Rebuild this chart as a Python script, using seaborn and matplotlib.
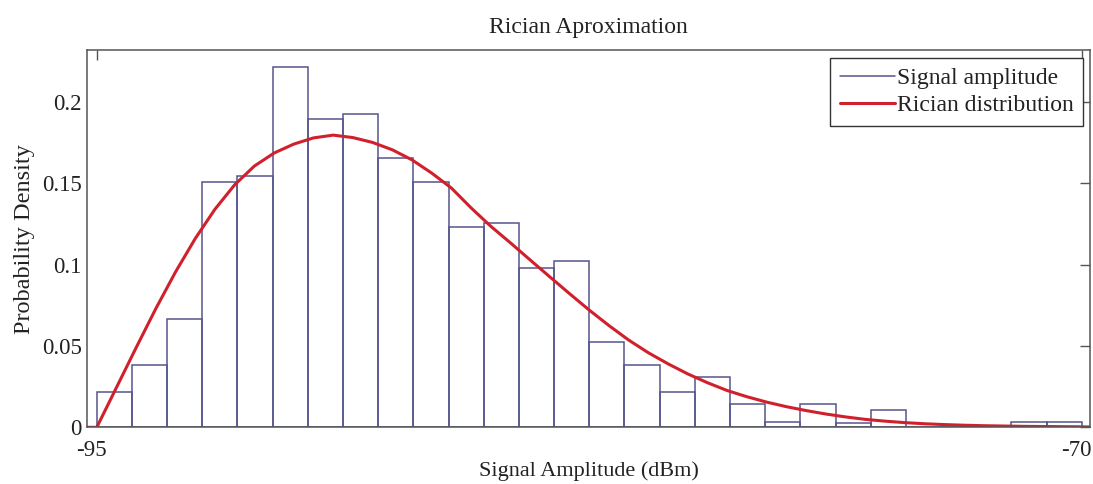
import numpy as np
import pandas as pd
import matplotlib
matplotlib.use("Agg")
import matplotlib.pyplot as plt
import matplotlib.transforms as mtransforms
from matplotlib.lines import Line2D
import seaborn as sns

# Histogram of received signal amplitude (dBm), normalised as a density
x_min, x_max, n_bins = -95.0, -70.0, 28
bin_density = [0.0215, 0.0383, 0.0665, 0.1505, 0.1544, 0.2211, 0.1892,
               0.1924, 0.1652, 0.1505, 0.1229, 0.1257, 0.0980, 0.1021,
               0.0526, 0.0383, 0.0215, 0.0311, 0.0143, 0.0034, 0.0143,
               0.0025, 0.0106, 0.0, 0.0, 0.0, 0.0034, 0.0034]

# Fitted Rician probability density curve, sampled every 0.5 dBm
rician_x = [-95.24, -95.0, -94.5, -94.0, -93.5, -93.0, -92.5, -92.0, -91.5,
            -91.0, -90.5, -90.0, -89.5, -89.0, -88.5, -88.0, -87.5, -87.0,
            -86.5, -86.0, -85.5, -85.0, -84.5, -84.0, -83.5, -83.0, -82.5,
            -82.0, -81.5, -81.0, -80.5, -80.0, -79.5, -79.0, -78.5, -78.0,
            -77.5, -77.0, -76.5, -76.0, -75.5, -75.0, -74.5, -74.0, -73.5,
            -73.0, -72.5, -72.0, -71.5, -71.0, -70.5, -70.0, -69.79]
rician_y = [0.0, 0.0, 0.0245, 0.0490, 0.0730, 0.0955, 0.1160, 0.1340, 0.1490,
            0.1605, 0.1685, 0.1740, 0.1778, 0.1795, 0.1780, 0.1750, 0.1705,
            0.1643, 0.1562, 0.1470, 0.1348, 0.1235, 0.1133, 0.1028, 0.0924,
            0.0821, 0.0720, 0.0625, 0.0536, 0.0458, 0.0390, 0.0328, 0.0274,
            0.0226, 0.0188, 0.0155, 0.0127, 0.0103, 0.0082, 0.0064, 0.0049,
            0.0038, 0.0029, 0.0022, 0.0017, 0.0013, 0.0010, 0.0008, 0.0006,
            0.0005, 0.0004, 0.0003, 0.0002]

x_ticks = [-95, -70]
y_ticks = [0, 0.05, 0.1, 0.15, 0.2]
y_tick_labels = ["0", "0.05", "0.1", "0.15", "0.2"]

bin_edges = [float(e) for e in np.linspace(x_min, x_max, n_bins + 1)]
bin_centers = [(a + b) / 2 for a, b in zip(bin_edges[:-1], bin_edges[1:])]
hist_df = pd.DataFrame({"amplitude": bin_centers, "density": bin_density})
curve_df = pd.DataFrame({"amplitude": rician_x, "pdf": rician_y})

sns.set_style("white")
plt.rcParams["font.family"] = ["Liberation Serif", "DejaVu Serif"]

bar_color = "#55558c"
curve_color = "#d0202c"
text_color = "#222222"

fig = plt.figure(figsize=(10.93, 4.84), dpi=100)
ax = fig.add_axes([0.0799, 0.1171, 0.9174, 0.7796])

sns.histplot(data=hist_df, x="amplitude", weights="density", bins=bin_edges,
             stat="count", fill=False, element="bars", color=bar_color,
             linewidth=1.1, ax=ax)
sns.lineplot(data=curve_df, x="amplitude", y="pdf", color=curve_color,
             linewidth=2.2, estimator=None, ax=ax)

ax.set_xlim(-95.24, -69.79)
ax.set_ylim(0, 0.2318)
ax.set_xticks(x_ticks)
ax.set_xticklabels([str(t) for t in x_ticks])
ax.set_yticks(y_ticks)
ax.set_yticklabels(y_tick_labels)

ax.tick_params(direction="in", top=True, right=True, length=7, width=1,
               color="#555555", labelsize=16.5, labelcolor=text_color)
ax.tick_params(axis="y", pad=4)
ax.tick_params(axis="x", pad=9)
shift = mtransforms.ScaledTranslation(-5 / 100, 0, fig.dpi_scale_trans)
for lbl in ax.get_xticklabels():
    lbl.set_transform(lbl.get_transform() + shift)

for sp in ax.spines.values():
    sp.set_color("#555555")
    sp.set_linewidth(1.1)

ax.set_title("Rician Aproximation", fontsize=17, color=text_color, pad=12)
ax.set_xlabel("Signal Amplitude (dBm)", fontsize=16, color=text_color,
              labelpad=0)
ax.set_ylabel("Probability Density", fontsize=17.5, color=text_color,
              labelpad=5)

handles = [Line2D([], [], color=bar_color, linewidth=1.1),
           Line2D([], [], color=curve_color, linewidth=2.2)]
leg = ax.legend(handles, ["Signal amplitude", "Rician distribution"],
                loc="upper right", bbox_to_anchor=(0.993, 0.979),
                fontsize=17, frameon=True, fancybox=False, framealpha=1,
                edgecolor="#333333", borderpad=0.4, handlelength=2.33,
                handletextpad=0.08, labelspacing=0.25, borderaxespad=0)
leg.get_frame().set_linewidth(1.0)
for t in leg.get_texts():
    t.set_color(text_color)

fig.savefig("out.png", dpi=100)
